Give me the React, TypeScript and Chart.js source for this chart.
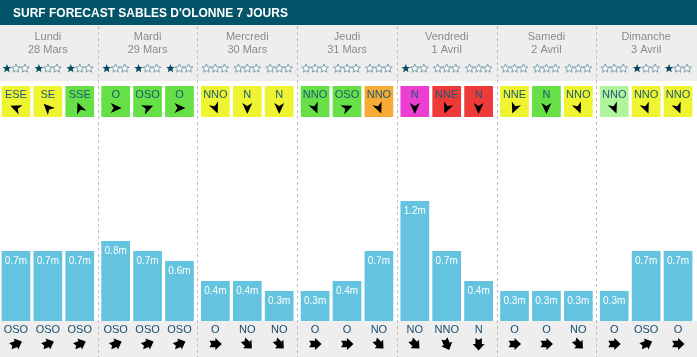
import React, { useEffect, useRef } from "react";
import { Chart, registerables } from "chart.js";

Chart.register(...registerables);

const title = "SURF FORECAST SABLES D'OLONNE 7 JOURS";
const dayNames = ["Lundi", "Mardi", "Mercredi", "Jeudi", "Vendredi", "Samedi", "Dimanche"];
const dayDates = ["28 Mars", "29 Mars", "30 Mars", "31 Mars", "1 Avril", "2 Avril", "3 Avril"];
const slotNames = ["Matin", "Après-midi", "Soir"];

// 21 slots, 3 per day, in day order
const waveHeights = [
  0.7, 0.7, 0.7,
  0.8, 0.7, 0.6,
  0.4, 0.4, 0.3,
  0.3, 0.4, 0.7,
  1.2, 0.7, 0.4,
  0.3, 0.3, 0.3,
  0.3, 0.7, 0.7,
];
const starRatings = [
  1, 1, 1,
  1, 1, 1,
  0, 0, 0,
  0, 0, 0,
  1, 0, 0,
  0, 0, 0,
  0, 1, 1,
];
const windDirs = [
  "ESE", "SE", "SSE",
  "O", "OSO", "O",
  "NNO", "N", "N",
  "NNO", "OSO", "NNO",
  "N", "NNE", "N",
  "NNE", "N", "NNO",
  "NNO", "NNO", "NNO",
];
// wind quality class: 1 light-green, 2 green, 3 yellow, 4 orange, 5 red, 6 magenta
const windClass = [
  3, 3, 2,
  2, 2, 2,
  3, 3, 3,
  2, 2, 4,
  6, 5, 5,
  3, 2, 3,
  1, 3, 3,
];
const swellDirs = [
  "OSO", "OSO", "OSO",
  "OSO", "OSO", "OSO",
  "O", "NO", "NO",
  "O", "O", "NO",
  "NO", "NNO", "N",
  "O", "O", "NO",
  "O", "OSO", "O",
];

const windPalette: Record<number, string> = {
  1: "#b0f59c",
  2: "#66e046",
  3: "#eef530",
  4: "#f7aa35",
  5: "#ef3a3a",
  6: "#ec3ed0",
};

const bearings: Record<string, number> = {
  N: 0, NNE: 22.5, NE: 45, ENE: 67.5, E: 90, ESE: 112.5, SE: 135, SSE: 157.5,
  S: 180, SSO: 202.5, SO: 225, OSO: 247.5, O: 270, ONO: 292.5, NO: 315, NNO: 337.5,
};

const FONT = "Arial, 'Liberation Sans', Helvetica, sans-serif";
const HEADER_BG = "#025469";
const GREY_BG = "#eeeeee";
const BAR_COLOR = "#64c3de";
const OFF = 2; // canvas x = page x + OFF

function drawStar(ctx: CanvasRenderingContext2D, cx: number, cy: number, filled: boolean) {
  const ro = 4.6, ri = 2.0;
  ctx.beginPath();
  for (let i = 0; i < 10; i++) {
    const r = i % 2 === 0 ? ro : ri;
    const a = -Math.PI / 2 + (i * Math.PI) / 5;
    const x = cx + r * Math.cos(a);
    const y = cy + r * Math.sin(a);
    if (i === 0) ctx.moveTo(x, y);
    else ctx.lineTo(x, y);
  }
  ctx.closePath();
  if (filled) {
    ctx.fillStyle = "#0b4b62";
    ctx.fill();
  } else {
    ctx.fillStyle = "#ffffff";
    ctx.fill();
    ctx.strokeStyle = "#5f8c9c";
    ctx.lineWidth = 0.8;
    ctx.stroke();
  }
}

function drawWindArrow(ctx: CanvasRenderingContext2D, cx: number, cy: number, dir: string) {
  const travel = (bearings[dir] + 180) % 360;
  ctx.save();
  ctx.translate(cx, cy);
  ctx.rotate(((travel - 90) * Math.PI) / 180);
  ctx.beginPath();
  ctx.moveTo(6, 0);
  ctx.lineTo(-5, -5);
  ctx.lineTo(-2, 0);
  ctx.lineTo(-5, 5);
  ctx.closePath();
  ctx.fillStyle = "#000";
  ctx.fill();
  ctx.restore();
}

function drawSwellArrow(ctx: CanvasRenderingContext2D, cx: number, cy: number, dir: string) {
  const travel = (bearings[dir] + 180) % 360;
  ctx.save();
  ctx.translate(cx, cy);
  ctx.rotate(((travel - 90) * Math.PI) / 180);
  ctx.beginPath();
  ctx.moveTo(-6, -3.2);
  ctx.lineTo(0, -3.2);
  ctx.lineTo(0, -6);
  ctx.lineTo(6.5, 0);
  ctx.lineTo(0, 6);
  ctx.lineTo(0, 3.2);
  ctx.lineTo(-6, 3.2);
  ctx.lineTo(-4, 0);
  ctx.closePath();
  ctx.fillStyle = "#000";
  ctx.fill();
  ctx.restore();
}

const decorPlugin = {
  id: "surfDecor",
  beforeDatasetsDraw(chart: any) {
    const ctx: CanvasRenderingContext2D = chart.ctx;
    const area = chart.chartArea;
    const W = chart.width;
    const H = chart.height;
    const xs = chart.scales.x;
    ctx.save();
    // header
    ctx.fillStyle = HEADER_BG;
    ctx.fillRect(0, 0, W, 25);
    ctx.fillStyle = "#ffffff";
    ctx.font = `bold 12px ${FONT}`;
    ctx.textAlign = "left";
    ctx.textBaseline = "middle";
    ctx.fillText(title, 13 + OFF, 13.5);
    // grey areas
    ctx.fillStyle = GREY_BG;
    ctx.fillRect(0, 25, W, 56);
    ctx.fillRect(0, area.bottom, W, H - area.bottom);

    // day labels
    ctx.textAlign = "center";
    ctx.font = `11px ${FONT}`;
    ctx.fillStyle = "#8a8a8a";
    dayNames.forEach((name, d) => {
      const cx = xs.getPixelForValue(d);
      ctx.fillText(name, cx, 37);
      ctx.fillText(dayDates[d], cx, 49.5);
    });

    // per-slot top decorations
    for (let s = 0; s < 3; s++) {
      const meta = chart.getDatasetMeta(s);
      meta.data.forEach((bar: any, d: number) => {
        const i = d * 3 + s;
        const bx = bar.x;
        const bw = bar.width;
        // stars
        for (let k = 0; k < 3; k++) {
          drawStar(ctx, bx + (k - 1) * 9, 68.5, k < starRatings[i]);
        }
        // wind box
        ctx.fillStyle = windPalette[windClass[i]];
        ctx.fillRect(bx - bw / 2, 86, bw, 31);
        ctx.fillStyle = "#1d5876";
        ctx.font = `11px ${FONT}`;
        ctx.textAlign = "center";
        ctx.textBaseline = "middle";
        ctx.fillText(windDirs[i], bx, 94.5);
        drawWindArrow(ctx, bx, 108, windDirs[i]);
        // swell direction
        ctx.fillStyle = "#1a4c6c";
        ctx.font = `11px ${FONT}`;
        ctx.fillText(swellDirs[i], bx, 329.5);
        drawSwellArrow(ctx, bx, 344, swellDirs[i]);
      });
    }
    ctx.restore();
  },
  afterDatasetsDraw(chart: any) {
    const ctx: CanvasRenderingContext2D = chart.ctx;
    const xs = chart.scales.x;
    const H = chart.height;
    ctx.save();
    // value labels
    ctx.fillStyle = "#ffffff";
    ctx.font = `10px ${FONT}`;
    ctx.textAlign = "center";
    ctx.textBaseline = "middle";
    for (let s = 0; s < 3; s++) {
      const meta = chart.getDatasetMeta(s);
      meta.data.forEach((bar: any, d: number) => {
        const v = waveHeights[d * 3 + s];
        ctx.fillText(`${v.toFixed(1)}m`, bar.x, bar.y + 10);
      });
    }
    // day dividers
    ctx.strokeStyle = "#bdbdbd";
    ctx.lineWidth = 1;
    ctx.setLineDash([3, 3]);
    for (let d = 0; d < dayNames.length - 1; d++) {
      const x = (xs.getPixelForValue(d) + xs.getPixelForValue(d + 1)) / 2;
      const px = Math.round(x) + 0.5;
      ctx.beginPath();
      ctx.moveTo(px, 26);
      ctx.lineTo(px, H);
      ctx.stroke();
    }
    ctx.restore();
  },
};

export default function App() {
  const ref = useRef<HTMLCanvasElement | null>(null);
  useEffect(() => {
    if (!ref.current) return;
    const datasets = slotNames.map((name, s) => ({
      label: name,
      data: dayNames.map((_, d) => waveHeights[d * 3 + s]),
      backgroundColor: BAR_COLOR,
      borderWidth: 0,
      categoryPercentage: 0.96,
      barPercentage: 0.9,
    }));
    const chart = new Chart(ref.current, {
      type: "bar",
      data: { labels: dayNames, datasets },
      options: {
        responsive: false,
        animation: false,
        devicePixelRatio: 1,
        layout: { padding: { top: 121, bottom: 36, left: 0, right: 1 } },
        plugins: { legend: { display: false }, tooltip: { enabled: false }, title: { display: false } },
        scales: {
          x: { display: false, grid: { display: false } },
          y: { display: false, min: 0, max: 2, grid: { display: false } },
        },
      },
      plugins: [decorPlugin],
    });
    return () => chart.destroy();
  }, []);
  return (
    <div style={{ position: "absolute", left: -OFF, top: 0, width: 697 + OFF, height: 357, overflow: "hidden", background: "#fff" }}>
      <canvas ref={ref} width={697 + OFF} height={357} style={{ display: "block" }} />
    </div>
  );
}
